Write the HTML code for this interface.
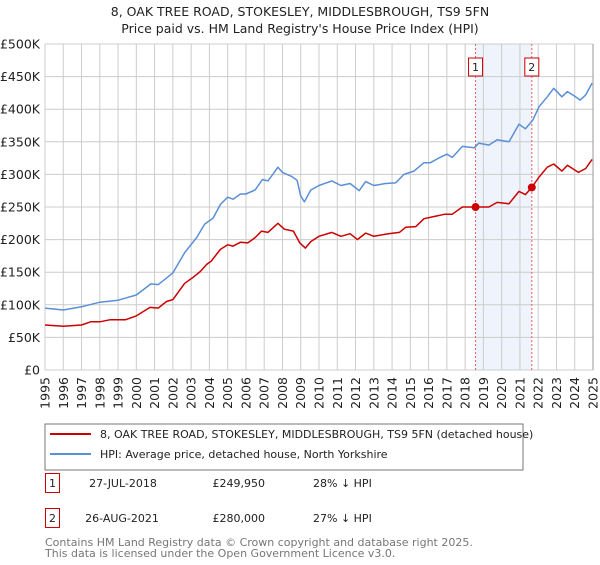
<!DOCTYPE html>
<html><head><meta charset="utf-8"><style>
body{margin:0;background:#fff;font-family:"Liberation Sans","DejaVu Sans",sans-serif;}
svg text{font-family:"DejaVu Sans","Liberation Sans",sans-serif;}
</style></head><body>
<svg id="c" width="600" height="560" xmlns="http://www.w3.org/2000/svg">
<text x="300" y="16" text-anchor="middle" font-size="12.5" fill="#222">8, OAK TREE ROAD, STOKESLEY, MIDDLESBROUGH, TS9 5FN</text>
<text x="300" y="33" text-anchor="middle" font-size="12.5" fill="#222">Price paid vs. HM Land Registry's House Price Index (HPI)</text>
<g id="grid"></g><g id="series"></g><g id="axes"></g>
<rect x="45" y="424" width="478" height="46" fill="#fff" stroke="#777"/>
<line x1="50" y1="434" x2="91" y2="434" stroke="#cc0000" stroke-width="2"/>
<text x="100" y="438" font-size="11" fill="#222">8, OAK TREE ROAD, STOKESLEY, MIDDLESBROUGH, TS9 5FN (detached house)</text>
<line x1="50" y1="454" x2="91" y2="454" stroke="#5b8fd6" stroke-width="2"/>
<text x="100" y="458" font-size="11" fill="#222">HPI: Average price, detached house, North Yorkshire</text>
<rect x="45.5" y="473.5" width="14" height="19" fill="#fff" stroke="#cc0000"/>
<text x="52.5" y="487" text-anchor="middle" font-size="11" fill="#222">1</text>
<text x="123" y="487" text-anchor="middle" font-size="11" fill="#222">27-JUL-2018</text>
<text x="265" y="487" text-anchor="end" font-size="11" fill="#222">£249,950</text>
<text x="313" y="487" font-size="11" fill="#222">28% ↓ HPI</text>
<rect x="45.5" y="508.5" width="14" height="19" fill="#fff" stroke="#cc0000"/>
<text x="52.5" y="522" text-anchor="middle" font-size="11" fill="#222">2</text>
<text x="122" y="522" text-anchor="middle" font-size="11" fill="#222">26-AUG-2021</text>
<text x="265" y="522" text-anchor="end" font-size="11" fill="#222">£280,000</text>
<text x="313" y="522" font-size="11" fill="#222">27% ↓ HPI</text>
<text x="45" y="546" font-size="11" fill="#777">Contains HM Land Registry data © Crown copyright and database right 2025.</text>
<text x="45" y="557" font-size="11" fill="#777">This data is licensed under the Open Government Licence v3.0.</text>
</svg>
<script>
const hpiYears=[1995,1996,1997,1998,1999,2000,2000.8,2001.2,2002,2002.65,2003.3,2003.75,2004.2,2004.6,2005,2005.3,2005.7,2006,2006.5,2006.9,2007.2,2007.5,2007.75,2008,2008.5,2008.8,2009.0,2009.2,2009.55,2010,2010.7,2011.2,2011.7,2012.2,2012.55,2013,2013.65,2014.2,2014.65,2015.2,2015.75,2016.1,2016.55,2017,2017.3,2017.85,2018.5,2018.75,2019.3,2019.75,2020.4,2020.95,2021.3,2021.7,2022.05,2022.5,2022.85,2023.3,2023.6,2024.05,2024.3,2024.6,2024.95];
const hpiValues=[95,92,97,104,107,115,132,131,149,180,203,224,233,254,265,262,270,270,276,292,290,301,311,303,297,291,267,258,276,283,290,283,286,275,289,283,286,287,300,305,318,318,325,331,326,343,341,348,345,353,350,377,370,383,404,419,432,419,427,419,414,422,440];
const ppYears=[1995,1996,1997,1997.5,1998,1998.55,1999.4,2000,2000.75,2001.2,2001.65,2002,2002.65,2003.1,2003.5,2003.85,2004.1,2004.6,2005,2005.3,2005.7,2006.1,2006.5,2006.85,2007.2,2007.75,2008.1,2008.6,2008.95,2009.25,2009.55,2010,2010.7,2011.2,2011.7,2012.1,2012.55,2013,2013.8,2014.4,2014.75,2015.3,2015.75,2016.4,2016.9,2017.3,2017.85,2018.57,2019.3,2019.75,2020.4,2020.95,2021.3,2021.65,2022.05,2022.5,2022.85,2023.3,2023.6,2024.2,2024.6,2024.95];
const ppValues=[69,67,69,74,74,77,77,83,96,95,105,108,133,142,151,162,167,185,192,190,196,195,203,213,211,225,216,213,195,187,197,205,211,205,209,200,210,205,209,211,219,220,232,236,239,239,250,250,250,257,255,274,269,280,296,311,316,305,314,303,309,323];
const saleYears=[2018.57,2021.65];
const saleValues=[249.95,280];
const yTicks=[0,50,100,150,200,250,300,350,400,450,500];
const yTickLabels=["£0","£50K","£100K","£150K","£200K","£250K","£300K","£350K","£400K","£450K","£500K"];
const xTicks=[1995,1996,1997,1998,1999,2000,2001,2002,2003,2004,2005,2006,2007,2008,2009,2010,2011,2012,2013,2014,2015,2016,2017,2018,2019,2020,2021,2022,2023,2024,2025];
const X0=45,X1=593,Y0=370,Y1=44;
const xs=y=>X0+(y-1995)/30*(X1-X0);
const ys=v=>Y0-v/500*(Y0-Y1);
const NS="http://www.w3.org/2000/svg";
function mk(tag,attrs,parent){const e=document.createElementNS(NS,tag);for(const k in attrs)e.setAttribute(k,attrs[k]);parent.appendChild(e);return e;}
const grid=document.getElementById('grid'),ser=document.getElementById('series'),ax=document.getElementById('axes');
// shaded region
let sh=mk('rect',{x:xs(saleYears[0]),y:Y1,width:xs(saleYears[1])-xs(saleYears[0]),height:Y0-Y1,fill:'#eef3fc'},grid);


yTicks.forEach((t,i)=>{
 let l=mk('line',{x1:X0,x2:X1,y1:ys(t),y2:ys(t),stroke:'#cccccc','stroke-width':1},grid);
 
 
 let tx=mk('text',{x:40,y:ys(t)+4.5,'text-anchor':'end','font-size':12.5,fill:'#222'},ax);
 tx.textContent=yTickLabels[i];
 
 
});
xTicks.forEach(t=>{
 let l=mk('line',{x1:xs(t),x2:xs(t),y1:Y1,y2:Y0,stroke:'#cccccc','stroke-width':1},grid);
 
 
 let tx=mk('text',{x:0,y:0,'text-anchor':'end','font-size':12.5,fill:'#222',transform:`translate(${xs(t)+4.5},377) rotate(-90)`},ax);
 tx.textContent=t;
 
 
});
let rb=mk('line',{x1:X1,x2:X1,y1:Y1,y2:Y0,stroke:'#999','stroke-width':1},grid);


saleYears.forEach((y,i)=>{
 let l=mk('line',{x1:xs(y),x2:xs(y),y1:Y1,y2:Y0,stroke:'#e06060','stroke-width':1,'stroke-dasharray':'2,2'},grid);
 
 
 let b=mk('rect',{x:xs(y)-7,y:58,width:14,height:18,fill:'#fff',stroke:'#cc0000'},ax);
 
 
 let t=mk('text',{x:xs(y),y:71,'text-anchor':'middle','font-size':11,fill:'#222'},ax);
 t.textContent=String(i+1);
});
function line(xa,va,col,name){
 let d=xa.map((x,i)=>(i?'L':'M')+xs(x).toFixed(1)+','+ys(va[i]).toFixed(1)).join('');
 let p=mk('path',{d:d,fill:'none',stroke:col,'stroke-width':1.5,'stroke-linejoin':'round'},ser);
 
 
}
line(hpiYears,hpiValues,'#5b8fd6','hpi-line');
line(ppYears,ppValues,'#cc0000','price-paid-line');
saleYears.forEach((y,i)=>{
 let c=mk('circle',{cx:xs(y),cy:ys(saleValues[i]),r:4,fill:'#cc0000'},ser);
 
 
});
</script>
</body></html>
